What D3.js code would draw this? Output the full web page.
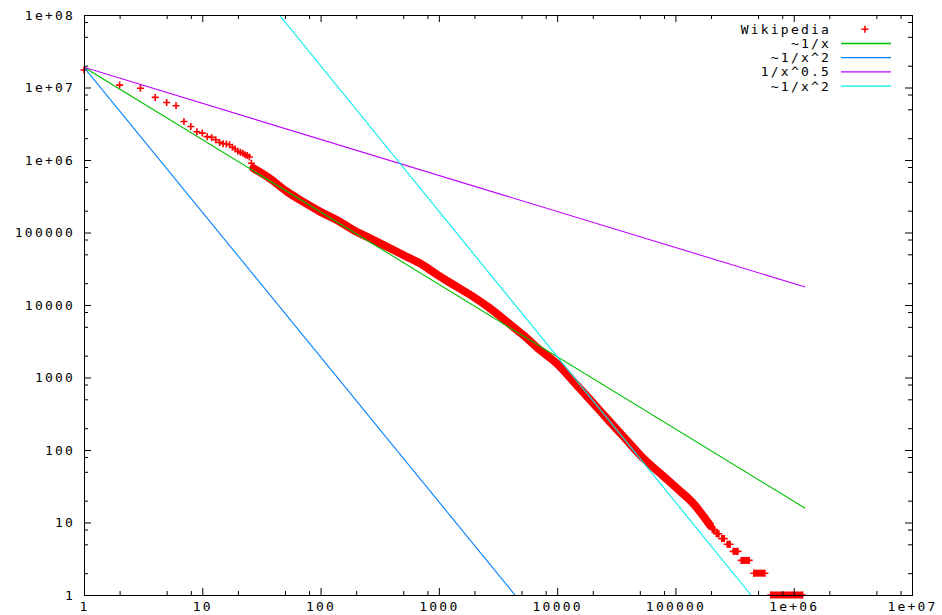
<!DOCTYPE html>
<html>
<head>
<meta charset="utf-8">
<script src="https://cdn.jsdelivr.net/npm/d3@7"></script>
<style>
body { margin: 0; background: #fff; }
svg text { font-family: "DejaVu Sans Mono", monospace; font-size: 13px; letter-spacing: 2.2px; fill: #000; }
</style>
</head>
<body>
<script>
// Tick labels as printed on the chart
var xTicks = [1, 10, 100, 1000, 10000, 100000, 1e6, 1e7];
var xTickLabels = ["1", "10", "100", "1000", "10000", "100000", "1e+06", "1e+07"];
var yTicks = [1, 10, 100, 1000, 10000, 100000, 1e6, 1e7, 1e8];
var yTickLabels = ["1", "10", "100", "1000", "10000", "100000", "1e+06", "1e+07", "1e+08"];
var minorSteps = [2, 5, 8];

// Wikipedia word counts: single ranks at the head of the list [rank, count]
var headPoints = [
    [1, 1.74e7], [2, 1.08e7], [3, 9.75e6], [4, 7.3e6], [5, 6.2e6], [6, 5.6e6],
    [7, 3.4e6], [8, 2.9e6], [9, 2.45e6], [10, 2.35e6], [11, 2.1e6], [12, 2.05e6],
    [13, 1.9e6], [14, 1.75e6], [15, 1.68e6], [16, 1.66e6], [17, 1.62e6], [18, 1.5e6],
    [19, 1.42e6], [20, 1.32e6], [21, 1.28e6], [22, 1.24e6], [23, 1.18e6], [24, 1.15e6],
    [25, 1.1e6], [26, 9.0e5], [27, 8.0e5], [28, 7.3e5]
];

// Dense middle part of the curve, read along the band [rank, count]
var bandPoints = [
    [27, 7.7e5], [37, 5.6e5], [52, 3.66e5], [71, 2.66e5], [99, 1.94e5], [137, 1.49e5],
    [189, 1.08e5], [262, 8.3e4], [362, 6.4e4], [500, 4.9e4], [692, 3.76e4], [958, 2.65e4],
    [1413, 1.79e4], [1954, 1.30e4], [2704, 9.0e3], [3741, 5.9e3], [5168, 3.85e3],
    [7157, 2.39e3], [9900, 1.57e3], [14600, 789], [20200, 441], [27900, 245],
    [38700, 137], [53500, 77], [74000, 48], [102000, 30], [141000, 18.4], [196000, 9.2]
];

// Tail: runs of ranks sharing the same small count [firstRank, lastRank, count]
var tailRuns = [
    [2.05e5, 2.15e5, 8], [2.22e5, 2.33e5, 7], [2.46e5, 2.59e5, 6], [2.74e5, 2.90e5, 5],
    [3.08e5, 3.38e5, 4], [3.6e5, 4.2e5, 3], [4.6e5, 5.7e5, 2], [6.4e5, 1.19e6, 1]
];

// Reference power laws, end points [[rank, count], [rank, count]]
var fitNames = ["~1/x", "~1/x^2", "1/x^0.5", "~1/x^2"];
var fitColors = ["#00c000", "#0080ff", "#c000ff", "#00eeee"];
var fitLines = [
    [[1, 1.9e7], [1.25e6, 15.7]],
    [[1, 1.9e7], [4400, 1]],
    [[1, 1.9e7], [1.25e6, 1.77e4]],
    [[44.8, 1e8], [4.35e5, 1]]
];

var width = 942, height = 615,
    margin = {top: 15, right: 30, bottom: 20, left: 84};

var svg = d3.select("body").append("svg")
    .attr("width", width)
    .attr("height", height);

var x = d3.scaleLog().domain([1, 1e7]).range([margin.left, width - margin.right]);
var y = d3.scaleLog().domain([1, 1e8]).range([height - margin.bottom, margin.top]);

svg.append("clipPath").attr("id", "plotClip")
    .append("rect")
    .attr("x", x(1)).attr("y", y(1e8))
    .attr("width", x(1e7) - x(1)).attr("height", y(1) - y(1e8));

var minorX = [], minorY = [];
xTicks.slice(0, -1).forEach(function(d){ minorSteps.forEach(function(m){ minorX.push(d * m); }); });
yTicks.slice(0, -1).forEach(function(d){ minorSteps.forEach(function(m){ minorY.push(d * m); }); });

var cross = "M-3.5,0H3.5M0,-3.5V3.5";

// Data first, gnuplot puts the fitted lines over it
var data = svg.append("g").attr("class", "wiki");

data.append("path")
    .datum(bandPoints)
    .attr("d", d3.line()
        .curve(d3.curveMonotoneX)
        .x(function(d){ return x(d[0]); })
        .y(function(d){ return y(d[1]); }))
    .style("fill", "none")
    .style("stroke", "#ff0000")
    .style("stroke-width", 8)
    .style("stroke-linejoin", "round")
    .style("stroke-linecap", "round");

data.selectAll(".run")
    .data(tailRuns)
    .enter()
    .append("line")
    .attr("class", "run")
    .attr("x1", function(d){ return x(d[0]); })
    .attr("x2", function(d){ return x(d[1]); })
    .attr("y1", function(d){ return y(d[2]); })
    .attr("y2", function(d){ return y(d[2]); })
    .style("stroke", "#ff0000")
    .style("stroke-width", 7);

var markerPoints = headPoints.concat(bandPoints);
tailRuns.forEach(function(r){ markerPoints.push([r[0], r[2]]); markerPoints.push([r[1], r[2]]); });

data.selectAll(".pt")
    .data(markerPoints)
    .enter()
    .append("path")
    .attr("class", "pt")
    .attr("transform", function(d){ return "translate(" + x(d[0]) + "," + y(d[1]) + ")"; })
    .attr("d", cross)
    .style("fill", "none")
    .style("stroke", "#ff0000")
    .style("stroke-width", 1.6);

var fits = svg.append("g").attr("clip-path", "url(#plotClip)");
fits.selectAll(".fit")
    .data(fitLines)
    .enter()
    .append("path")
    .attr("class", "fit")
    .attr("d", d3.line().x(function(d){ return x(d[0]); }).y(function(d){ return y(d[1]); }))
    .style("fill", "none")
    .style("stroke", function(d, i){ return fitColors[i]; })
    .style("stroke-width", 1.1);

// Axes with inward ticks, mirrored on top and right
function styleAxis(g){
    g.select(".domain").remove();
    g.selectAll("line").style("stroke", "#000");
    g.selectAll("text")
        .attr("font-family", null)
        .attr("font-size", null);
}

svg.append("g")
    .attr("transform", "translate(0," + y(1) + ")")
    .call(d3.axisBottom(x).tickValues(xTicks).tickFormat(function(d, i){ return xTickLabels[i]; })
        .tickSizeInner(-7).tickSizeOuter(0).tickPadding(6.5))
    .call(styleAxis);
svg.append("g")
    .attr("transform", "translate(0," + y(1) + ")")
    .call(d3.axisBottom(x).tickValues(minorX).tickFormat("").tickSizeInner(-4).tickSizeOuter(0))
    .call(styleAxis);
svg.append("g")
    .attr("transform", "translate(0," + y(1e8) + ")")
    .call(d3.axisTop(x).tickValues(xTicks).tickFormat("").tickSizeInner(-7).tickSizeOuter(0))
    .call(styleAxis);
svg.append("g")
    .attr("transform", "translate(0," + y(1e8) + ")")
    .call(d3.axisTop(x).tickValues(minorX).tickFormat("").tickSizeInner(-4).tickSizeOuter(0))
    .call(styleAxis);

svg.append("g")
    .attr("transform", "translate(" + x(1) + ",0)")
    .call(d3.axisLeft(y).tickValues(yTicks).tickFormat(function(d, i){ return yTickLabels[i]; })
        .tickSizeInner(-7).tickSizeOuter(0).tickPadding(9))
    .call(styleAxis);
svg.append("g")
    .attr("transform", "translate(" + x(1) + ",0)")
    .call(d3.axisLeft(y).tickValues(minorY).tickFormat("").tickSizeInner(-4).tickSizeOuter(0))
    .call(styleAxis);
svg.append("g")
    .attr("transform", "translate(" + x(1e7) + ",0)")
    .call(d3.axisRight(y).tickValues(yTicks).tickFormat("").tickSizeInner(-7).tickSizeOuter(0))
    .call(styleAxis);
svg.append("g")
    .attr("transform", "translate(" + x(1e7) + ",0)")
    .call(d3.axisRight(y).tickValues(minorY).tickFormat("").tickSizeInner(-4).tickSizeOuter(0))
    .call(styleAxis);

svg.append("rect")
    .attr("x", x(1) + 0.5).attr("y", y(1e8) + 0.5)
    .attr("width", x(1e7) - x(1)).attr("height", y(1) - y(1e8))
    .style("fill", "none")
    .style("stroke", "#000")
    .style("stroke-width", 1);

// Key in the top right corner
var keyNames = ["Wikipedia"].concat(fitNames);
var key = svg.append("g").attr("class", "key");
var keyRows = key.selectAll(".keyRow")
    .data(keyNames)
    .enter()
    .append("g")
    .attr("class", "keyRow")
    .attr("transform", function(d, i){ return "translate(0," + (29.3 + i * 14.2) + ")"; });

keyRows.append("text")
    .attr("x", 831)
    .attr("dy", "0.35em")
    .attr("text-anchor", "end")
    .text(function(d){ return d; });

keyRows.filter(function(d, i){ return i > 0; })
    .append("line")
    .attr("x1", 841).attr("x2", 891)
    .style("stroke", function(d, i){ return fitColors[i]; })
    .style("stroke-width", 1.3);

keyRows.filter(function(d, i){ return i === 0; })
    .append("path")
    .attr("transform", "translate(865,0)")
    .attr("d", cross)
    .style("fill", "none")
    .style("stroke", "#ff0000")
    .style("stroke-width", 1.6);
</script>
</body>
</html>
